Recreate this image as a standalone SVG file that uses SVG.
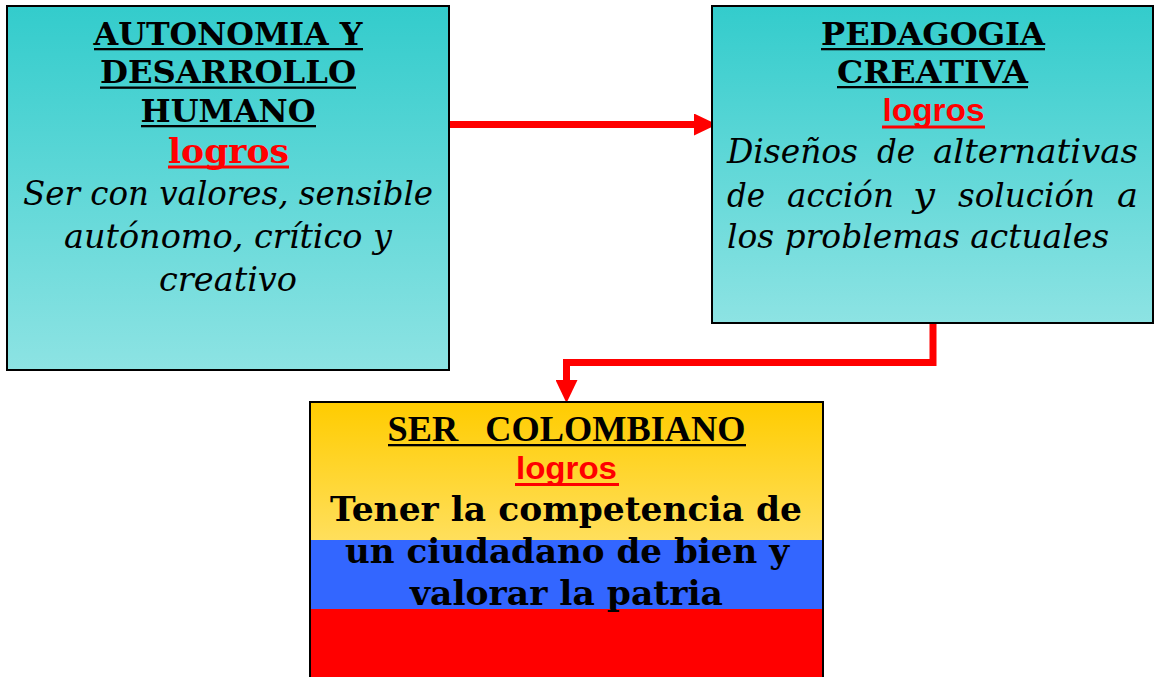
<svg xmlns="http://www.w3.org/2000/svg" width="1157" height="677" viewBox="0 0 1157 677">
<style>
.box{stroke:#000;stroke-width:2}
.hd{font-family:"DejaVu Serif",serif;font-weight:bold;font-size:31px;fill:#000;text-anchor:middle}
.lgs{font-family:"DejaVu Serif",serif;font-weight:bold;font-size:34px;fill:#ff0000;text-anchor:middle}
.lga{font-family:"Liberation Sans",Arial,sans-serif;font-weight:bold;font-size:32px;fill:#ff0000;text-anchor:middle}
.it{font-family:"DejaVu Serif",serif;font-style:italic;font-size:34px;fill:#000}
.bd{font-family:"DejaVu Serif",serif;font-weight:bold;font-size:34px;fill:#000;text-anchor:middle}
.ul{fill:#000}
.ulr{fill:#ff0000}
.conn{fill:none;stroke:#ff0000;stroke-width:7}
</style>
<defs>
<linearGradient id="teal" x1="0" y1="0" x2="0" y2="1">
<stop offset="0" stop-color="#33CCCC"/>
<stop offset="1" stop-color="#8DE3E3"/>
</linearGradient>
<linearGradient id="yel" x1="0" y1="0" x2="0" y2="1">
<stop offset="0" stop-color="#FFCC00"/>
<stop offset="1" stop-color="#FFDF5C"/>
</linearGradient>
<marker id="ah" viewBox="0 0 23 22" refX="0" refY="11" markerWidth="23" markerHeight="22" markerUnits="userSpaceOnUse" orient="auto">
<path d="M0,0 L23,11 L0,22 z" fill="#ff0000"/>
</marker>
</defs>

<g id="connectors">
<path class="conn" d="M449,124.5 H694" marker-end="url(#ah)"/>
<path class="conn" d="M933,323 V362.5 H566.5 V380" marker-end="url(#ah)"/>
</g>

<g id="autonomia">
<rect class="box" x="7" y="6" width="442" height="364" fill="url(#teal)"/>
<text class="hd" x="228" y="45" textLength="269" lengthAdjust="spacingAndGlyphs">AUTONOMIA Y</text>
<rect class="ul" x="94" y="48" width="269" height="2.3"/>
<text class="hd" x="228" y="83" textLength="256" lengthAdjust="spacingAndGlyphs">DESARROLLO</text>
<rect class="ul" x="100" y="86.5" width="256" height="2.3"/>
<text class="hd" x="228" y="122" textLength="175" lengthAdjust="spacingAndGlyphs">HUMANO</text>
<rect class="ul" x="141" y="125" width="175" height="2.3"/>
<text class="lgs" x="228.5" y="163" textLength="121" lengthAdjust="spacingAndGlyphs">logros</text>
<rect class="ulr" x="168" y="165.5" width="121" height="3"/>
<text class="it" x="228" y="205" text-anchor="middle" textLength="410" lengthAdjust="spacingAndGlyphs">Ser con valores, sensible</text>
<text class="it" x="228" y="248" text-anchor="middle" textLength="328" lengthAdjust="spacingAndGlyphs">autónomo, crítico y</text>
<text class="it" x="228" y="291" text-anchor="middle" textLength="138" lengthAdjust="spacingAndGlyphs">creativo</text>
</g>

<g id="pedagogia">
<rect class="box" x="712" y="6" width="441" height="317" fill="url(#teal)"/>
<text class="hd" x="933" y="45" textLength="224" lengthAdjust="spacingAndGlyphs">PEDAGOGIA</text>
<rect class="ul" x="821" y="48" width="224" height="2.3"/>
<text class="hd" x="932.5" y="83" textLength="191" lengthAdjust="spacingAndGlyphs">CREATIVA</text>
<rect class="ul" x="837" y="86" width="191" height="2.3"/>
<text class="lga" x="933.5" y="121" textLength="102" lengthAdjust="spacingAndGlyphs">logros</text>
<rect class="ulr" x="882" y="125.5" width="103" height="3"/>
<text class="it" y="163"><tspan x="727" textLength="131" lengthAdjust="spacingAndGlyphs">Diseños</tspan></text>
<text class="it" y="163"><tspan x="877" textLength="38" lengthAdjust="spacingAndGlyphs">de</tspan></text>
<text class="it" y="163"><tspan x="933" textLength="205" lengthAdjust="spacingAndGlyphs">alternativas</tspan></text>
<text class="it" y="207"><tspan x="727" textLength="38" lengthAdjust="spacingAndGlyphs">de</tspan></text>
<text class="it" y="207"><tspan x="787" textLength="107" lengthAdjust="spacingAndGlyphs">acción</tspan></text>
<text class="it" y="207"><tspan x="913" textLength="22" lengthAdjust="spacingAndGlyphs">y</tspan></text>
<text class="it" y="207"><tspan x="958" textLength="137" lengthAdjust="spacingAndGlyphs">solución</tspan></text>
<text class="it" y="207"><tspan x="1117" textLength="21" lengthAdjust="spacingAndGlyphs">a</tspan></text>
<text class="it" x="727" y="248" textLength="382" lengthAdjust="spacingAndGlyphs">los problemas actuales</text>
</g>

<g id="ser-colombiano">
<rect x="310" y="402" width="513" height="138" fill="url(#yel)"/>
<rect x="310" y="540" width="513" height="69" fill="#3366FF"/>
<rect x="310" y="609" width="513" height="70" fill="#FF0000"/>
<rect class="box" x="310" y="402" width="513" height="280" fill="none"/>
<text x="566.5" y="441" style="font-family:'Liberation Serif','Times New Roman',serif;font-weight:bold;font-size:35px;fill:#000;text-anchor:middle;white-space:pre" xml:space="preserve" textLength="358" lengthAdjust="spacingAndGlyphs">SER   COLOMBIANO</text>
<rect class="ul" x="388" y="444" width="358" height="2.3"/>
<text class="lga" x="566.5" y="479" textLength="101" lengthAdjust="spacingAndGlyphs">logros</text>
<rect class="ulr" x="515" y="483" width="104" height="3"/>
<text class="bd" x="566" y="521" textLength="472" lengthAdjust="spacingAndGlyphs">Tener la competencia de</text>
<text class="bd" x="567" y="563" textLength="444" lengthAdjust="spacingAndGlyphs">un ciudadano de bien y</text>
<text class="bd" x="566.5" y="605" textLength="313" lengthAdjust="spacingAndGlyphs">valorar la patria</text>
</g>
</svg>
